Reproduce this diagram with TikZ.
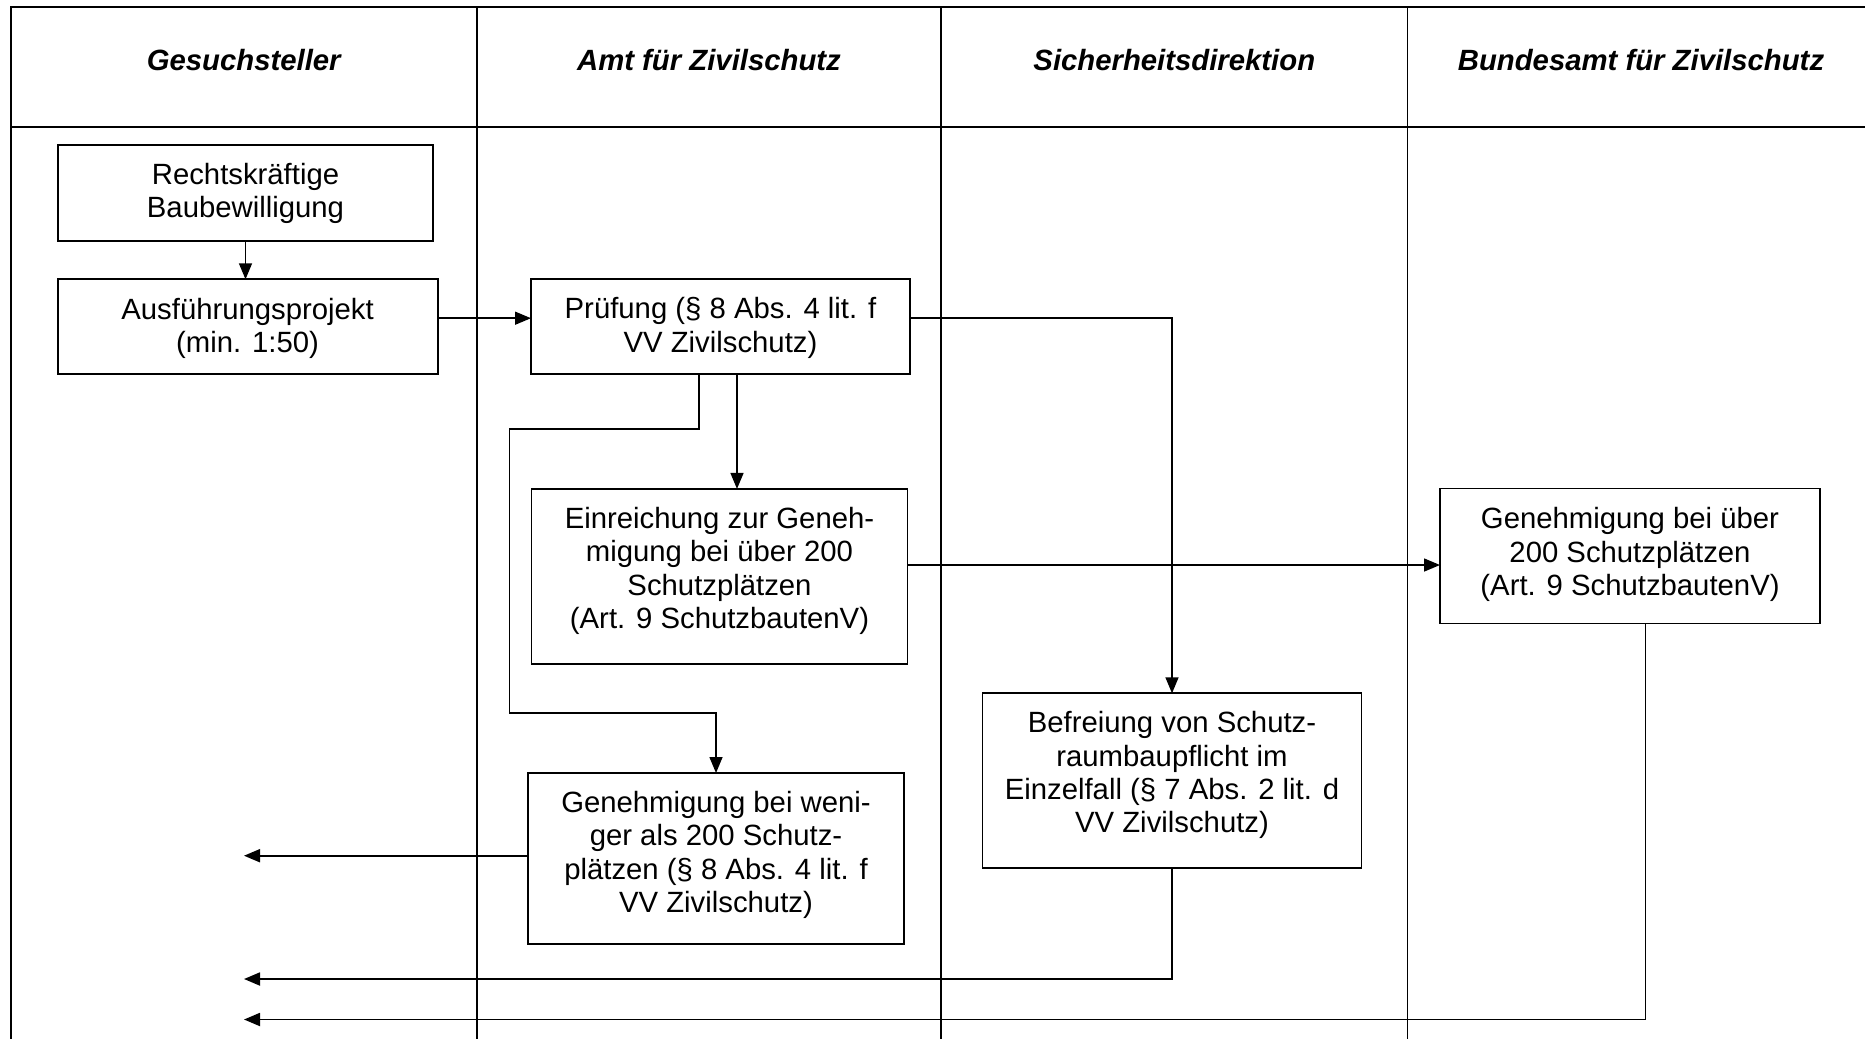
\documentclass[tikz,border=0pt]{standalone}
\usepackage{fontspec}
\setmainfont{Liberation Sans}
\usetikzlibrary{arrows.meta}
\begin{document}
\begin{tikzpicture}[x=1pt,y=-1pt,
  frame/.style={line width=2.2pt,black},
  divider/.style={line width=1.7pt,black},
  box/.style={draw,line width=1.9pt,rectangle,inner sep=0pt,outer sep=0pt},
  txt/.style={font=\fontsize{29.3}{33.4}\selectfont,align=center,inner sep=0pt},
  head/.style={font=\fontsize{29.3}{33.4}\selectfont\bfseries\itshape,inner sep=0pt},
  conn/.style={line width=1.5pt,-{Triangle[length=16pt,width=13pt]}},
  retn/.style={line width=1.9pt,-{Triangle[length=16pt,width=13pt]}}
]
\useasboundingbox (0,0) rectangle (1865,1039);
\fill[white] (0,0) rectangle (1865,1039);

% table frame
\draw[frame] (1865,7.3) -- (10.7,7.3) -- (10.7,1039);
\draw[frame] (10.7,126.7) -- (1865,126.7);
\draw[divider] (476.8,7.3) -- (476.8,1039);
\draw[divider] (941,7.3) -- (941,1039);
\draw[divider] (1407.6,7.3) -- (1407.6,1039);

% headings
\node[head] (h1) at (243.7,60) {Gesuchsteller};
\node[head] (h2) at (709,60) {Amt für Zivilschutz};
\node[head] (h3) at (1174.3,60) {Sicherheitsdirektion};
\node[head] (h4) at (1641,60) {Bundesamt für Zivilschutz};

% boxes
\node[box,minimum width=375.7,minimum height=95.7,
  label={[txt,yshift=-0.5]center:{Rechtskräftige\\Baubewilligung}}] (rk) at (245.5,193) {};
\node[box,minimum width=380,minimum height=95,
  label={[txt,yshift=-1.5]center:{Ausführungsprojekt\\(min. 1:50)}}] (af) at (247.6,326.8) {};
\node[box,minimum width=379,minimum height=95,
  label={[txt,yshift=-1.5]center:{Prüfung (§ 8 Abs. 4 lit. f\\VV Zivilschutz)}}] (pr) at (720.5,326.5) {};
\node[box,minimum width=376,minimum height=175,
  label={[txt,yshift=5.5]center:{Einreichung zur Geneh-\\migung bei über 200\\Schutzplätzen\\(Art. 9 SchutzbautenV)}}] (ein) at (719.5,576.4) {};
\node[box,minimum width=376,minimum height=171,
  label={[txt,yshift=3.5]center:{Genehmigung bei weni-\\ger als 200 Schutz-\\plätzen (§ 8 Abs. 4 lit. f\\VV Zivilschutz)}}] (gw) at (716,858.5) {};
\node[box,minimum width=379,minimum height=175,
  label={[txt,yshift=5.5]center:{Befreiung von Schutz-\\raumbaupflicht im\\Einzelfall (§ 7 Abs. 2 lit. d\\VV Zivilschutz)}}] (bef) at (1172,780.8) {};
\node[box,minimum width=380,minimum height=135,
  label={[txt,yshift=1.5]center:{Genehmigung bei über\\200 Schutzplätzen\\(Art. 9 SchutzbautenV)}}] (gu) at (1630,556) {};

% helper coordinates
\coordinate (c1) at (509.5,429);
\coordinate (c2) at (509.5,713);
\coordinate (r1) at (244,855.7);
\coordinate (r2) at (244,979);
\coordinate (r3) at (244,1019.5);

% connectors
\draw[conn] (rk.south) -- (rk.south |- af.north);
\draw[conn] ([yshift=8.6]af.east) -- ([yshift=8.6]af.east -| pr.west);
\draw[conn] ([xshift=-21.5]pr.south) |- (c1) -- (c2) -| (gw.north);
\draw[conn] ([xshift=16.5]pr.south) -- ([xshift=16.5]pr.south |- ein.north);
\draw[conn] ([yshift=8.6]pr.east) -| (bef.north);
\draw[conn] ([yshift=11.4]ein.east) -- ([yshift=11.4]ein.east -| gu.west);
\draw[retn] (gw.west |- r1) -- (r1);
\draw[retn] (bef.south) |- (r2);
\draw[retn] ([xshift=15.5]gu.south) |- (r3);
\end{tikzpicture}
\end{document}
